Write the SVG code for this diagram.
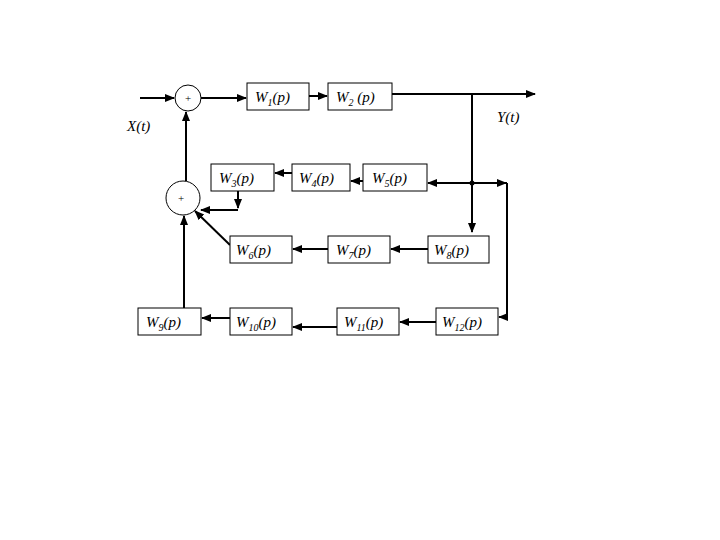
<svg xmlns="http://www.w3.org/2000/svg" width="720" height="540" viewBox="0 0 720 540">
<style>
.b{fill:#fff;stroke:#000;stroke-width:1}
.l{fill:none;stroke:#000;stroke-width:2}
text{font-family:"Liberation Serif",serif;font-style:italic;font-size:15px}
.s{font-size:10px}
.p{font-style:normal;font-size:11px}
</style>
<defs><marker id="a" viewBox="0 0 10 10" refX="9" refY="5" markerWidth="5" markerHeight="5" orient="auto"><path d="M0 1L10 5L0 9z"/></marker></defs>
<rect width="720" height="540" fill="#fff"/>
<g id="connectors">
<path class="l" d="M140 98H174" marker-end="url(#a)"/>
<path class="l" d="M201 98H246" marker-end="url(#a)"/>
<path class="l" d="M309 96H327" marker-end="url(#a)"/>
<path class="l" d="M392 94H535" marker-end="url(#a)"/>
<path class="l" d="M472 94V232" marker-end="url(#a)"/>
<path class="l" d="M507 183H428" marker-end="url(#a)"/>
<path class="l" d="M472 183H506" marker-end="url(#a)"/>
<path class="l" d="M507 183V317H499" marker-end="url(#a)"/>
<circle cx="472" cy="183" r="2.5"/>
<path class="l" d="M363 181H351" marker-end="url(#a)"/>
<path class="l" d="M292 173H275" marker-end="url(#a)"/>
<path class="l" d="M238 191V208" marker-end="url(#a)"/>
<path class="l" d="M238 210H201" marker-end="url(#a)"/>
<path class="l" d="M230 245L195 211" marker-end="url(#a)"/>
<path class="l" d="M428 249H391" marker-end="url(#a)"/>
<path class="l" d="M328 249H293" marker-end="url(#a)"/>
<path class="l" d="M436 322H400" marker-end="url(#a)"/>
<path class="l" d="M337 327H293" marker-end="url(#a)"/>
<path class="l" d="M230 318H202" marker-end="url(#a)"/>
<path class="l" d="M184 308V216" marker-end="url(#a)"/>
<path class="l" d="M186 181V112" marker-end="url(#a)"/>
</g>
<g id="sum1"><circle class="b" cx="188" cy="98" r="13"/><text x="188" y="102" class="p" text-anchor="middle">+</text></g>
<g id="sum2"><circle class="b" cx="183" cy="198" r="17"/><text x="181" y="202" class="p" text-anchor="middle">+</text></g>
<g id="W1"><rect class="b" x="247" y="83" width="62" height="27"/><text x="255" y="102">W<tspan class="s" dy="4">1</tspan><tspan dy="-4">(p)</tspan></text></g>
<g id="W2"><rect class="b" x="328" y="83" width="64" height="27"/><text x="336" y="102">W<tspan class="s" dy="4">2</tspan><tspan dy="-4"> (p)</tspan></text></g>
<g id="W3"><rect class="b" x="211" y="164" width="63" height="27"/><text x="219" y="183">W<tspan class="s" dy="4">3</tspan><tspan dy="-4">(p)</tspan></text></g>
<g id="W4"><rect class="b" x="292" y="164" width="58" height="27"/><text x="299" y="183">W<tspan class="s" dy="4">4</tspan><tspan dy="-4">(p)</tspan></text></g>
<g id="W5"><rect class="b" x="363" y="164" width="64" height="27"/><text x="372" y="183">W<tspan class="s" dy="4">5</tspan><tspan dy="-4">(p)</tspan></text></g>
<g id="W6"><rect class="b" x="230" y="236" width="62" height="27"/><text x="236" y="255">W<tspan class="s" dy="4">6</tspan><tspan dy="-4">(p)</tspan></text></g>
<g id="W7"><rect class="b" x="328" y="236" width="62" height="27"/><text x="336" y="255">W<tspan class="s" dy="4">7</tspan><tspan dy="-4">(p)</tspan></text></g>
<g id="W8"><rect class="b" x="428" y="236" width="61" height="27"/><text x="434" y="255">W<tspan class="s" dy="4">8</tspan><tspan dy="-4">(p)</tspan></text></g>
<g id="W9"><rect class="b" x="138" y="308" width="63" height="27"/><text x="146" y="327">W<tspan class="s" dy="4">9</tspan><tspan dy="-4">(p)</tspan></text></g>
<g id="W10"><rect class="b" x="230" y="308" width="62" height="27"/><text x="236" y="327">W<tspan class="s" dy="4">10</tspan><tspan dy="-4">(p)</tspan></text></g>
<g id="W11"><rect class="b" x="337" y="308" width="62" height="27"/><text x="344" y="327">W<tspan class="s" dy="4">11</tspan><tspan dy="-4">(p)</tspan></text></g>
<g id="W12"><rect class="b" x="436" y="308" width="62" height="27"/><text x="442" y="327">W<tspan class="s" dy="4">12</tspan><tspan dy="-4">(p)</tspan></text></g>
<text x="127" y="131">X(t)</text>
<text x="497" y="122">Y(t)</text>
</svg>
